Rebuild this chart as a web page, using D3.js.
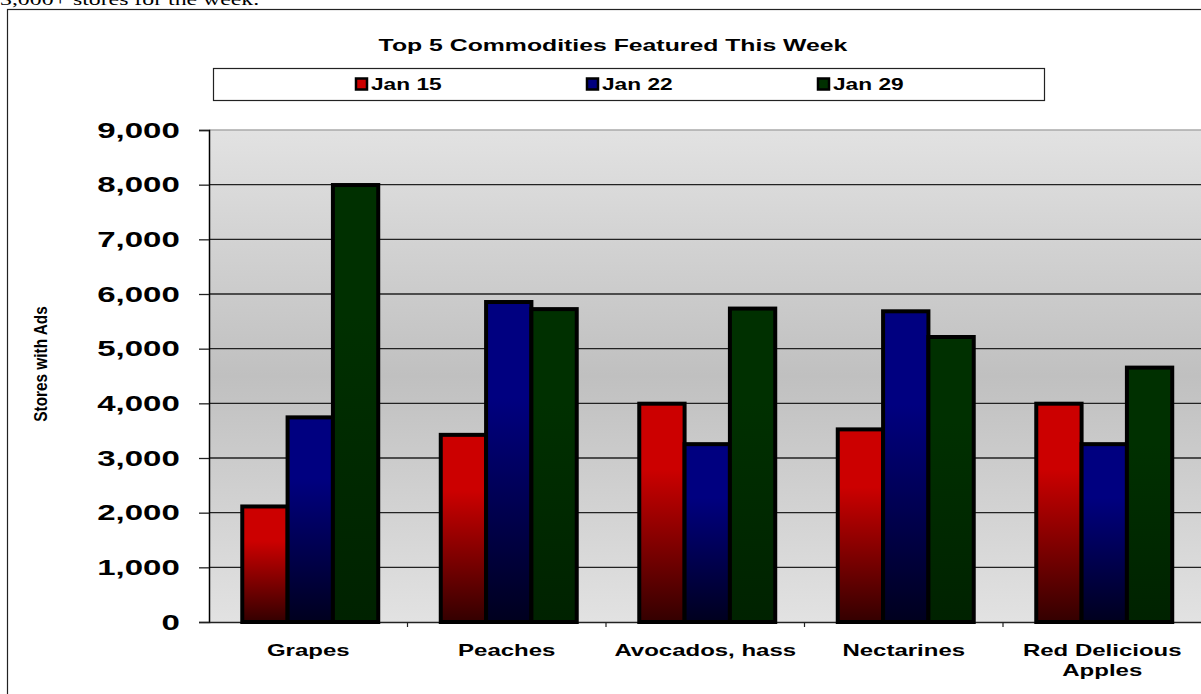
<!DOCTYPE html>
<html>
<head>
<meta charset="utf-8">
<script src="https://cdn.jsdelivr.net/npm/d3@7"></script>
<style>
  body { margin: 0; background: #fff; }
  text { font-family: Arial, "Liberation Sans", sans-serif; }
</style>
</head>
<body>
<script>
const width = 1201;
const height = 694;

// data
const categories = ['Grapes', 'Peaches', 'Avocados, hass', 'Nectarines', 'Red Delicious Apples'];
const seriesNames = ['Jan 15', 'Jan 22', 'Jan 29'];
const jan15 = [2150, 3460, 4030, 3560, 4030];
const jan22 = [3780, 5890, 3290, 5720, 3290];
const jan29 = [8030, 5760, 5770, 5250, 4690];
const yTicks = [0, 1000, 2000, 3000, 4000, 5000, 6000, 7000, 8000, 9000];

const seriesValues = [jan15, jan22, jan29];
const colors = [
    { top: '#cc0000', bottom: '#330000' },
    { top: '#000080', bottom: '#00001e' },
    { top: '#003000', bottom: '#002200' }
];

// the original picture is stretched sideways, so text is too
const sx = 1.5;

const svg = d3.select('body').append('svg').attr('width', width).attr('height', height);

const defs = svg.append('defs');
const bg = defs.append('linearGradient').attr('id', 'bg').attr('x1', 0).attr('y1', 0).attr('x2', 0).attr('y2', 1);
bg.append('stop').attr('offset', '0%').attr('stop-color', '#e2e2e2');
bg.append('stop').attr('offset', '50%').attr('stop-color', '#c0c0c0');
bg.append('stop').attr('offset', '100%').attr('stop-color', '#e2e2e2');

colors.forEach((c, i) => {
    const g = defs.append('linearGradient').attr('id', 'bar' + i).attr('x1', 0).attr('y1', 0).attr('x2', 0).attr('y2', 1);
    g.append('stop').attr('offset', '0%').attr('stop-color', c.top);
    g.append('stop').attr('offset', '30%').attr('stop-color', c.top);
    g.append('stop').attr('offset', '100%').attr('stop-color', c.bottom);
});

// text above the chart frame, cut by the top edge
svg.append('text')
    .attr('transform', `translate(0,5) scale(1.4,1)`)
    .style('font-family', '"Liberation Serif", "DejaVu Serif", serif')
    .style('font-size', '17px')
    .text('3,000+ stores for the week.');

// outer frame
svg.append('rect')
    .attr('x', 7.5).attr('y', 9.5)
    .attr('width', width + 10).attr('height', height + 10)
    .attr('fill', 'none').attr('stroke', '#222').attr('stroke-width', 1.2);

const plot = { left: 209, right: 1201.5, top: 130, bottom: 622 };

const x = d3.scaleBand()
    .domain(categories)
    .range([plot.left, plot.right])
    .paddingInner(0.315)
    .paddingOuter(0.1575);

const xs = d3.scaleBand()
    .domain(seriesNames)
    .range([0, x.bandwidth()]);

const y = d3.scaleLinear().domain([0, 9000]).range([plot.bottom, plot.top]);

// plot area background
svg.append('rect')
    .attr('x', plot.left).attr('y', plot.top)
    .attr('width', plot.right - plot.left).attr('height', plot.bottom - plot.top)
    .attr('fill', 'url(#bg)');

// gridlines
svg.append('g')
    .selectAll('line')
    .data(yTicks.filter(d => d > 0))
    .enter().append('line')
    .attr('x1', plot.left).attr('x2', plot.right)
    .attr('y1', d => y(d)).attr('y2', d => y(d))
    .attr('stroke', d => d === 9000 ? '#aaa' : '#222')
    .attr('stroke-width', 1.3);

// y axis
const yAxis = svg.append('g')
    .attr('transform', `translate(${plot.left},0)`)
    .call(d3.axisLeft(y).tickValues(yTicks).tickSize(10).tickPadding(9.5).tickFormat(d3.format(',')));
yAxis.select('.domain').attr('stroke', '#000').attr('stroke-width', 1.5);
yAxis.selectAll('.tick line').attr('stroke', '#222').attr('stroke-width', 1.3);
yAxis.selectAll('.tick text')
    .attr('transform', `scale(${sx},1)`)
    .style('font-size', '22px').style('font-weight', 'bold').attr('fill', '#000');

// x axis
const xAxis = svg.append('g')
    .attr('transform', `translate(0,${plot.bottom})`)
    .call(d3.axisBottom(x).tickSize(0).tickFormat(''));
xAxis.select('.domain').attr('stroke', '#222').attr('stroke-width', 1.3);

svg.append('g')
    .selectAll('line')
    .data(categories.slice(1))
    .enter().append('line')
    .attr('x1', d => x(d) - x.step() * x.paddingInner() / 2)
    .attr('x2', d => x(d) - x.step() * x.paddingInner() / 2)
    .attr('y1', plot.bottom).attr('y2', plot.bottom + 5)
    .attr('stroke', '#222').attr('stroke-width', 1.2);

const labels = svg.append('g')
    .selectAll('text')
    .data(categories)
    .enter().append('text')
    .attr('transform', d => `translate(${x(d) + x.bandwidth() / 2},656) scale(${sx},1)`)
    .attr('text-anchor', 'middle')
    .style('font-size', '16px').style('font-weight', 'bold');

labels.each(function(d) {
    const t = d3.select(this);
    if (d === 'Red Delicious Apples') {
        t.append('tspan').attr('x', 0).attr('dy', 0).text('Red Delicious');
        t.append('tspan').attr('x', 0).attr('dy', 20).text('Apples');
    } else {
        t.text(d);
    }
});

// bars
seriesValues.forEach((vals, si) => {
    svg.append('g')
        .selectAll('rect')
        .data(vals)
        .enter().append('rect')
        .attr('x', (d, i) => x(categories[i]) + xs(seriesNames[si]) + 2)
        .attr('y', d => y(d) + 2)
        .attr('width', xs.bandwidth())
        .attr('height', d => plot.bottom - y(d) - 2)
        .attr('fill', `url(#bar${si})`)
        .attr('stroke', '#000')
        .attr('stroke-width', 4);
});

// y axis title
svg.append('text')
    .attr('transform', 'translate(47,364) rotate(-90) scale(1.18,1.4)')
    .attr('text-anchor', 'middle')
    .style('font-family', '"Liberation Sans Narrow", Arial, sans-serif')
    .style('font-size', '13px').style('font-weight', 'bold')
    .text('Stores with Ads');

// chart title
svg.append('text')
    .attr('transform', `translate(613,51) scale(1.55,1)`)
    .attr('text-anchor', 'middle')
    .style('font-size', '16px').style('font-weight', 'bold')
    .text('Top 5 Commodities Featured This Week');

// legend
svg.append('rect')
    .attr('x', 213.5).attr('y', 68.5).attr('width', 831).attr('height', 32)
    .attr('fill', '#fff').attr('stroke', '#222').attr('stroke-width', 1.2);

const legendX = [356, 587, 818];
const legend = svg.append('g')
    .selectAll('g')
    .data(seriesNames)
    .enter().append('g')
    .attr('transform', (d, i) => `translate(${legendX[i]},84)`);

legend.append('rect')
    .attr('x', 0).attr('y', -5.5).attr('width', 11).attr('height', 11)
    .attr('fill', (d, i) => colors[i].top)
    .attr('stroke', '#000').attr('stroke-width', 2.5);

legend.append('text')
    .attr('transform', 'translate(15,6) scale(1.42,1)')
    .style('font-size', '16px').style('font-weight', 'bold')
    .text(d => d);
</script>
</body>
</html>
